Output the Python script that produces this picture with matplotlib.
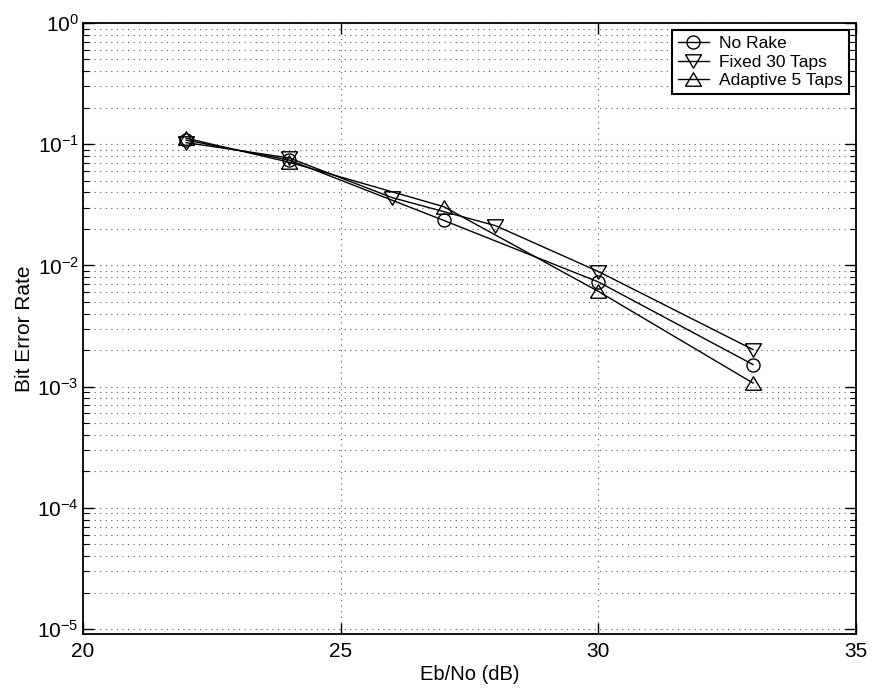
import matplotlib
matplotlib.use("Agg")
import matplotlib.pyplot as plt
from matplotlib.ticker import LogLocator, FixedLocator, NullLocator, NullFormatter

plt.rcParams['font.family'] = ['Liberation Sans', 'DejaVu Sans']
plt.rcParams['mathtext.fontset'] = 'custom'
plt.rcParams['mathtext.rm'] = 'Liberation Sans'
plt.rcParams['mathtext.it'] = 'Liberation Sans:italic'
plt.rcParams['mathtext.bf'] = 'Liberation Sans:bold'

# Data
no_rake_x = [22, 24, 27, 30, 33]
no_rake_y = [0.108, 0.074, 0.0235, 0.0073, 0.00152]

fixed30_x = [22, 24, 26, 28, 30, 33]
fixed30_y = [0.103, 0.077, 0.0362, 0.0213, 0.0089, 0.00202]

adaptive5_x = [22, 24, 27, 30, 33]
adaptive5_y = [0.112, 0.071, 0.0305, 0.0061, 0.00107]

series_labels = ['No Rake', 'Fixed 30 Taps', 'Adaptive 5 Taps']
x_ticks = [20, 25, 30, 35]

fig = plt.figure(figsize=(8.73, 6.96), dpi=100)
ax = fig.add_axes([0.0951, 0.0891, 0.8855, 0.8779])

tri_down = [(-1, 0.84), (1, 0.84), (0, -0.84), (-1, 0.84)]
tri_up = [(-1, -0.84), (1, -0.84), (0, 0.84), (-1, -0.84)]

common = dict(color='black', linewidth=1.0, markerfacecolor='none',
              markeredgecolor='black', markeredgewidth=1.0)
ax.plot(no_rake_x, no_rake_y, marker='o', markersize=9.4,
        label=series_labels[0], **common)
ax.plot(fixed30_x, fixed30_y, marker=tri_down, markersize=11.5,
        label=series_labels[1], **common)
ax.plot(adaptive5_x, adaptive5_y, marker=tri_up, markersize=11.5,
        label=series_labels[2], **common)

ax.set_yscale('log')
ax.set_xlim(20, 35)
ax.set_ylim(9.1e-6, 1)
ax.xaxis.set_major_locator(FixedLocator(x_ticks))
ax.xaxis.set_minor_locator(NullLocator())
ax.yaxis.set_major_locator(LogLocator(base=10, numticks=10))
ax.yaxis.set_minor_locator(LogLocator(base=10, subs=range(2, 10), numticks=20))
ax.yaxis.set_minor_formatter(NullFormatter())

ax.tick_params(axis='both', which='both', direction='in', top=True, right=True,
               labelsize=15, color='black')
ax.tick_params(axis='both', which='major', length=8, width=1.0)
ax.tick_params(axis='x', which='major', pad=6)
ax.tick_params(axis='y', which='major', pad=3)
ax.tick_params(axis='y', which='minor', length=4, width=0.8)

grid_style = dict(color='0.35', linestyle=(0, (1, 4)), linewidth=0.8)
ax.grid(True, which='major', axis='both', **grid_style)
ax.grid(True, which='minor', axis='y', **grid_style)
ax.set_axisbelow(True)

for sp in ax.spines.values():
    sp.set_linewidth(1.3)
    sp.set_color('black')

ax.set_xlabel('Eb/No (dB)', fontsize=14.5, labelpad=3)
ax.set_ylabel('Bit Error Rate', fontsize=15, labelpad=2)

leg = ax.legend(loc='upper right', fontsize=12.5, frameon=True, fancybox=False,
                borderaxespad=0.4, handlelength=1.8, handletextpad=0.6,
                labelspacing=0.2, borderpad=0.35)
leg.get_frame().set_edgecolor('black')
leg.get_frame().set_linewidth(1.5)
leg.get_frame().set_alpha(1)

fig.savefig('out.png', dpi=100)
